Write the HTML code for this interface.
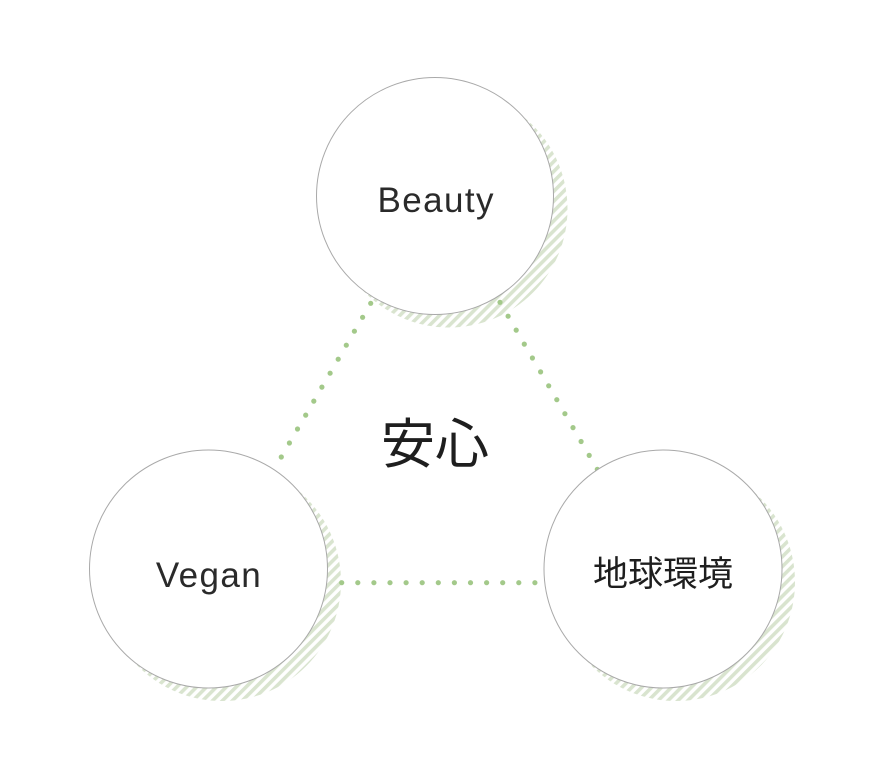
<!DOCTYPE html>
<html>
<head>
<meta charset="utf-8">
<style>
  html,body{margin:0;padding:0;background:#fff;}
  svg{display:block;}
  .lat{font-family:"Liberation Sans","Noto Sans CJK JP",sans-serif;font-size:35px;fill:#2a2a2a;letter-spacing:1.4px;}
  .cjk{font-family:"Liberation Sans","Noto Sans CJK JP",sans-serif;fill:#1e1e1e;}
</style>
</head>
<body>
<svg width="882" height="782" viewBox="0 0 882 782" xmlns="http://www.w3.org/2000/svg">
  <defs>
    <pattern id="st" width="7" height="7" patternUnits="userSpaceOnUse" patternTransform="rotate(45)">
      <rect x="0" y="0" width="3.6" height="7" fill="#d9e4cf"/>
    </pattern>
  </defs>
  <rect width="882" height="782" fill="#fff"/>

  <!-- striped shadows -->
  <circle cx="449" cy="209" r="118.5" fill="url(#st)"/>
  <circle cx="222" cy="582" r="119" fill="url(#st)"/>
  <circle cx="676" cy="582" r="119" fill="url(#st)"/>

  <!-- dotted connectors -->
  <g fill="#a3c98a">
    <circle cx="370.7" cy="303.3" r="2.6"/>
    <circle cx="362.6" cy="317.3" r="2.6"/>
    <circle cx="354.4" cy="331.2" r="2.6"/>
    <circle cx="346.3" cy="345.2" r="2.6"/>
    <circle cx="338.2" cy="359.2" r="2.6"/>
    <circle cx="330.1" cy="373.2" r="2.6"/>
    <circle cx="321.9" cy="387.1" r="2.6"/>
    <circle cx="313.8" cy="401.1" r="2.6"/>
    <circle cx="305.7" cy="415.1" r="2.6"/>
    <circle cx="297.5" cy="429.0" r="2.6"/>
    <circle cx="289.4" cy="443.0" r="2.6"/>
    <circle cx="281.3" cy="457.0" r="2.6"/>

    <circle cx="500.0" cy="302.3" r="2.6"/>
    <circle cx="508.1" cy="316.2" r="2.6"/>
    <circle cx="516.2" cy="330.1" r="2.6"/>
    <circle cx="524.3" cy="344.1" r="2.6"/>
    <circle cx="532.4" cy="358.0" r="2.6"/>
    <circle cx="540.6" cy="371.9" r="2.6"/>
    <circle cx="548.7" cy="385.8" r="2.6"/>
    <circle cx="556.8" cy="399.7" r="2.6"/>
    <circle cx="564.9" cy="413.7" r="2.6"/>
    <circle cx="573.0" cy="427.6" r="2.6"/>
    <circle cx="581.1" cy="441.5" r="2.6"/>
    <circle cx="589.2" cy="455.4" r="2.6"/>
    <circle cx="597.3" cy="469.3" r="2.6"/>

    <circle cx="341.7" cy="582.7" r="2.6"/>
    <circle cx="357.8" cy="582.7" r="2.6"/>
    <circle cx="373.9" cy="582.7" r="2.6"/>
    <circle cx="390.0" cy="582.7" r="2.6"/>
    <circle cx="406.1" cy="582.7" r="2.6"/>
    <circle cx="422.2" cy="582.7" r="2.6"/>
    <circle cx="438.3" cy="582.7" r="2.6"/>
    <circle cx="454.4" cy="582.7" r="2.6"/>
    <circle cx="470.5" cy="582.7" r="2.6"/>
    <circle cx="486.6" cy="582.7" r="2.6"/>
    <circle cx="502.7" cy="582.7" r="2.6"/>
    <circle cx="518.8" cy="582.7" r="2.6"/>
    <circle cx="534.9" cy="582.7" r="2.6"/>
  </g>

  <!-- main circles -->
  <circle cx="435" cy="196" r="118.5" fill="#fff" stroke="#a9a9a9" stroke-width="1"/>
  <circle cx="208.5" cy="569" r="119" fill="#fff" stroke="#a9a9a9" stroke-width="1"/>
  <circle cx="663" cy="569" r="119" fill="#fff" stroke="#a9a9a9" stroke-width="1"/>

  <!-- labels -->
  <text class="lat" x="436.2" y="212" text-anchor="middle">Beauty</text>
  <text class="lat" x="209" y="587" text-anchor="middle">Vegan</text>
  <text class="cjk" x="663" y="586" font-size="35" text-anchor="middle">地球環境</text>
  <text class="cjk" x="435" y="463" font-size="54" text-anchor="middle">安心</text>
</svg>
</body>
</html>
